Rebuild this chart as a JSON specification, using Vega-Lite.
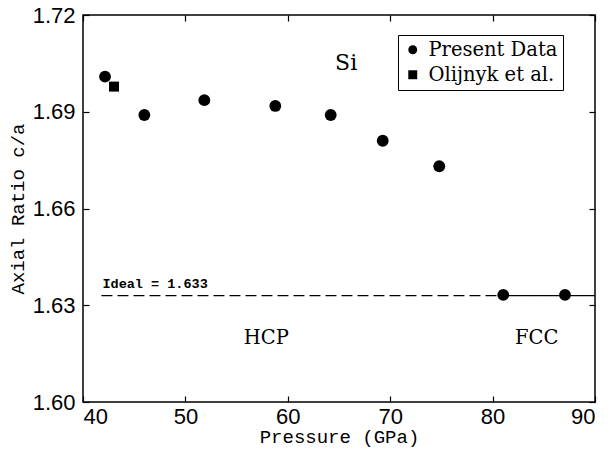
{
  "$schema": "https://vega.github.io/schema/vega-lite/v6.json",
  "width": 512,
  "height": 387,
  "autosize": {"type": "none"},
  "padding": {"left": 83, "top": 15, "right": 15, "bottom": 49},
  "background": "white",
  "config": {
    "view": {"stroke": "black", "strokeWidth": 1.5},
    "axis": {
      "grid": false,
      "domain": false,
      "tickColor": "black",
      "tickSize": 6,
      "tickWidth": 1.2,
      "labelColor": "black",
      "titleColor": "black",
      "labelFont": "Liberation Sans",
      "labelFontSize": 22,
      "titleFont": "Liberation Mono",
      "titleFontSize": 19,
      "titleFontWeight": "normal"
    }
  },
  "resolve": {"axis": {"x": "independent", "y": "independent"}, "scale": {"x": "shared", "y": "shared"}},
  "layer": [
    {
      "data": {"values": [{"x": 41.8, "x2": 81.0, "y": 1.633, "s": "dash"}, {"x": 81.0, "x2": 90, "y": 1.633, "s": "solid"}]},
      "mark": {"type": "rule", "color": "black", "strokeWidth": 1.2},
      "encoding": {
        "x": {"field": "x", "type": "quantitative", "scale": {"domain": [40, 90], "nice": false}, "axis": {"orient": "bottom", "values": [40, 50, 60, 70, 80, 90], "ticks": false, "title": "Pressure (GPa)", "labelPadding": 4, "titlePadding": 0}},
        "x2": {"field": "x2"},
        "y": {"field": "y", "type": "quantitative", "scale": {"domain": [1.6, 1.72], "nice": false, "zero": false}, "axis": {"orient": "left", "values": [1.6, 1.63, 1.66, 1.69, 1.72], "format": ".2f", "ticks": false, "title": "Axial Ratio  c/a", "labelPadding": 8, "titlePadding": 5}},
        "strokeDash": {"field": "s", "type": "nominal", "scale": {"domain": ["dash", "solid"], "range": [[11, 5], [1, 0]]}, "legend": null}
      }
    },
    {
      "data": {"values": [{"x": 40, "y": 1.6}]},
      "mark": {"type": "point", "opacity": 0},
      "encoding": {
        "x": {"field": "x", "type": "quantitative", "axis": {"orient": "top", "offset": -387, "values": [40, 50, 60, 70, 80, 90], "labels": false, "title": null}},
        "y": {"field": "y", "type": "quantitative", "axis": {"orient": "right", "offset": -512, "values": [1.6, 1.63, 1.66, 1.69, 1.72], "labels": false, "title": null}}
      }
    },
    {
      "data": {"values": [{"x": 40, "y": 1.6}]},
      "mark": {"type": "point", "opacity": 0},
      "encoding": {
        "x": {"field": "x", "type": "quantitative", "axis": {"orient": "bottom", "offset": -387, "values": [40, 50, 60, 70, 80, 90], "labels": false, "title": null}},
        "y": {"field": "y", "type": "quantitative", "axis": {"orient": "left", "offset": -512, "values": [1.6, 1.63, 1.66, 1.69, 1.72], "labels": false, "title": null}}
      }
    },
    {
      "data": {"values": [
        {"p": 42.15, "r": 1.7009, "src": "Present Data"},
        {"p": 45.99, "r": 1.6890, "src": "Present Data"},
        {"p": 51.85, "r": 1.6936, "src": "Present Data"},
        {"p": 58.78, "r": 1.6918, "src": "Present Data"},
        {"p": 64.19, "r": 1.6890, "src": "Present Data"},
        {"p": 69.27, "r": 1.6810, "src": "Present Data"},
        {"p": 74.79, "r": 1.6731, "src": "Present Data"},
        {"p": 81.04, "r": 1.6332, "src": "Present Data"},
        {"p": 87.07, "r": 1.6332, "src": "Present Data"}
      ]},
      "mark": {"type": "point", "filled": true, "color": "black", "opacity": 1, "size": 140},
      "encoding": {
        "x": {"field": "p", "type": "quantitative", "axis": null},
        "y": {"field": "r", "type": "quantitative", "axis": null},
        "shape": {"field": "src", "type": "nominal", "scale": {"domain": ["Present Data", "Olijnyk et al."], "range": ["circle", "square"]},
          "legend": {"title": null, "orient": "none", "legendX": 315, "legendY": 20, "strokeColor": "black", "fillColor": "white", "padding": 5, "labelFont": "DejaVu Serif", "labelFontSize": 19.5, "labelColor": "black", "symbolFillColor": "black", "symbolStrokeColor": "black", "symbolStrokeWidth": 0, "symbolSize": 80, "rowPadding": 4, "labelOffset": 6}}
      }
    },
    {
      "data": {"values": [{"p": 43.03, "r": 1.6978, "src": "Olijnyk et al."}]},
      "mark": {"type": "point", "filled": true, "color": "black", "opacity": 1, "size": 100},
      "encoding": {
        "x": {"field": "p", "type": "quantitative", "axis": null},
        "y": {"field": "r", "type": "quantitative", "axis": null},
        "shape": {"field": "src", "type": "nominal"}
      }
    },
    {
      "data": {"values": [{"p": 65.7, "r": 1.7051, "t": "Si"}]},
      "mark": {"type": "text", "font": "DejaVu Serif", "fontSize": 22, "color": "black", "align": "center", "baseline": "middle"},
      "encoding": {
        "x": {"field": "p", "type": "quantitative", "axis": null},
        "y": {"field": "r", "type": "quantitative", "axis": null},
        "text": {"field": "t"}
      }
    },
    {
      "data": {"values": [{"p": 57.9, "r": 1.6198, "t": "HCP"}, {"p": 84.3, "r": 1.6198, "t": "FCC"}]},
      "mark": {"type": "text", "font": "DejaVu Serif", "fontSize": 19.5, "color": "black", "align": "center", "baseline": "middle"},
      "encoding": {
        "x": {"field": "p", "type": "quantitative", "axis": null},
        "y": {"field": "r", "type": "quantitative", "axis": null},
        "text": {"field": "t"}
      }
    },
    {
      "data": {"values": [{"p": 41.9, "r": 1.6355, "t": "Ideal = 1.633"}]},
      "mark": {"type": "text", "font": "Liberation Mono", "fontSize": 13.5, "fontWeight": "bold", "color": "black", "align": "left", "baseline": "alphabetic"},
      "encoding": {
        "x": {"field": "p", "type": "quantitative", "axis": null},
        "y": {"field": "r", "type": "quantitative", "axis": null},
        "text": {"field": "t"}
      }
    }
  ]
}
